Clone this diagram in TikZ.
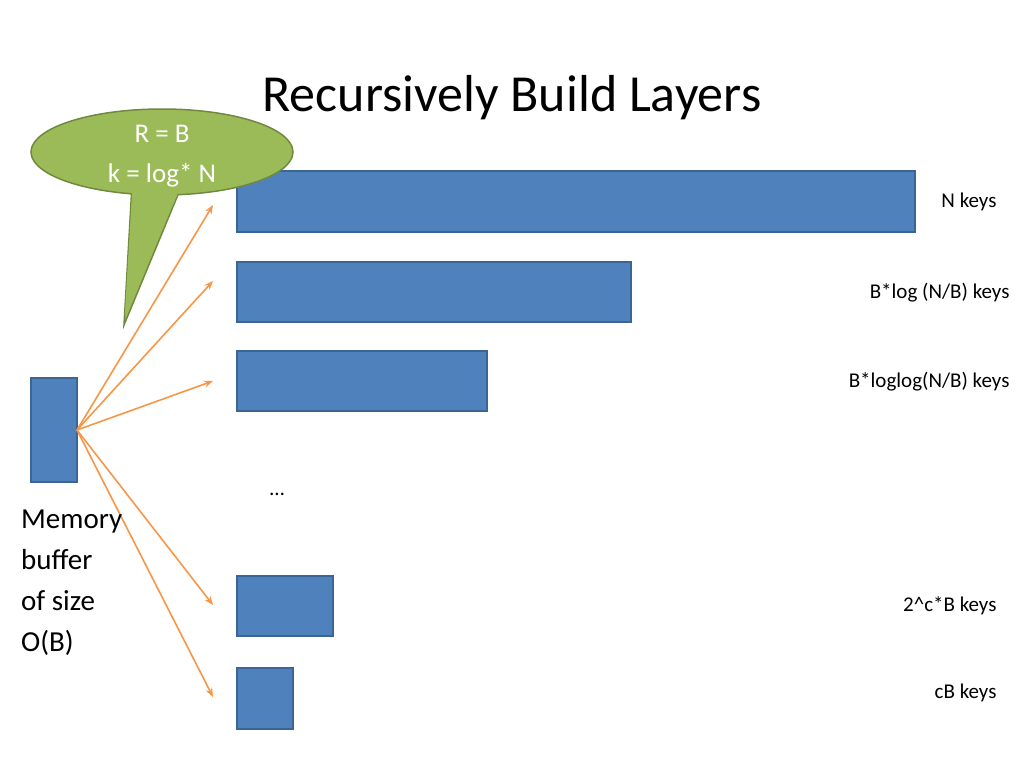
\documentclass[tikz,border=0pt]{standalone}
\usepackage{fontspec}
\usetikzlibrary{arrows.meta}
\setmainfont{Carlito}
\begin{document}
\begin{tikzpicture}[x=1pt,y=-1pt,
  bar/.style={fill=barblue,draw=bardark,line width=1.5pt},
  arr/.style={draw=orng,line width=1.6pt,-{Stealth[length=9pt,width=7pt]}},
  lab/.style={font=\fontsize{21}{25}\selectfont,anchor=east}]
\definecolor{barblue}{HTML}{4F81BD}
\definecolor{bardark}{HTML}{3A6594}
\definecolor{orng}{HTML}{F79646}
\definecolor{grn}{HTML}{9BBB59}
\definecolor{grndark}{HTML}{71893F}
\useasboundingbox (0,0) rectangle (1024,768);
\node[font=\fontsize{52}{60}\selectfont] (title) at (512,98) {Recursively Build Layers};
\draw[bar] (237,171) rectangle (915,232) node[midway] (b1) {};
\draw[bar] (237,262) rectangle (631,322) node[midway] (b2) {};
\draw[bar] (237,351) rectangle (487,411) node[midway] (b3) {};
\draw[bar] (237,576) rectangle (333,636) node[midway] (b4) {};
\draw[bar] (237,668) rectangle (293,729) node[midway] (b5) {};
\draw[bar] (31,378) rectangle (77,482) node[midway] (buf) {};
\coordinate (o) at (77,430);
\coordinate (t1) at (213,205);
\coordinate (t2) at (213,281);
\coordinate (t3) at (213,381);
\coordinate (t4) at (213,605);
\coordinate (t5) at (213,697);
\foreach \t in {t1,t2,t3,t4,t5} \draw[arr] (o) -- (\t);
\node[lab] (l1) at (1000,202) {N keys};
\node[lab] (l2) at (1013,293) {B*log (N/B) keys};
\node[lab] (l3) at (1013,382) {B*loglog(N/B) keys};
\node[font=\fontsize{21}{25}\selectfont] (dots) at (277,494) {\dots};
\node[lab] (l4) at (1000,606) {2\^{}c*B keys};
\node[lab] (l5) at (1000,693) {cB keys};
\node[font=\fontsize{29}{41}\selectfont,align=left,anchor=north west,inner sep=0pt] (mem) at (21,510) {Memory\\buffer\\of size\\O(B)};
% callout
\draw[fill=grn,draw=grndark,line width=1.5pt] (132,185) -- (124,325) -- (182,185) -- cycle;
\draw[fill=grn,draw=grndark,line width=1.5pt] (162,152) ellipse [x radius=131,y radius=43];
\fill[grn] (132.5,186) -- (124.8,315) -- (181,186) -- cycle;
\node[white,font=\fontsize{27}{32}\selectfont] (c1) at (162,134) {R = B};
\node[white,font=\fontsize{27}{32}\selectfont] (c2) at (162,175) {k = log* N};
\end{tikzpicture}
\end{document}
